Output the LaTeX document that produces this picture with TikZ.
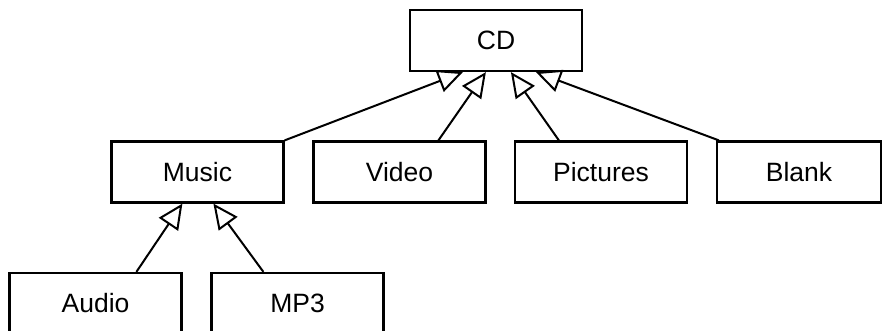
\documentclass[tikz,border=0pt]{standalone}
\usepackage{fontspec}
\setmainfont{Liberation Sans}
\usetikzlibrary{arrows.meta}
\begin{document}
\begin{tikzpicture}[x=1pt,y=-1pt,
  cls/.style={draw, line width=2.2pt, minimum width=172pt, minimum height=61pt, inner sep=0pt, font=\fontsize{26.5}{30}\selectfont, fill=white},
  inh/.style={line width=2pt, -{Triangle[open, length=25pt, width=23pt, line width=2pt]}}]
\useasboundingbox (0,0) rectangle (882,331);
\node[cls] (CD) at (496,40.5) {CD};
\node[cls] (Music) at (197.5,172) {Music};
\node[cls] (Video) at (399.5,172) {Video};
\node[cls] (Pictures) at (601,172) {Pictures};
\node[cls, minimum width=164pt] (Blank) at (799,172) {Blank};
\node[cls] (Audio) at (95.5,303.5) {Audio};
\node[cls] (MP3) at (297.5,303.5) {MP3};
\draw[inh] (Music.north east) -- ([xshift=54pt]CD.south west);
\draw[inh] ([xshift=126pt]Video.north west) -- ([xshift=77pt]CD.south west);
\draw[inh] ([xshift=45pt]Pictures.north west) -- ([xshift=102pt]CD.south west);
\draw[inh] ([xshift=3pt]Blank.north west) -- ([xshift=127pt]CD.south west);
\draw[inh] ([xshift=128pt]Audio.north west) -- ([xshift=72pt]Music.south west);
\draw[inh] ([xshift=53pt]MP3.north west) -- ([xshift=103pt]Music.south west);
\end{tikzpicture}
\end{document}
